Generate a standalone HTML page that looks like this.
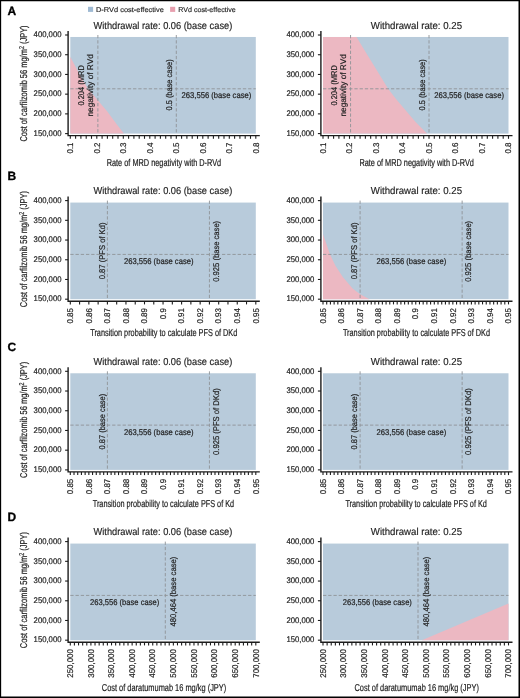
<!DOCTYPE html>
<html><head><meta charset="utf-8"><style>
html,body{margin:0;padding:0;background:#fff;}
body{width:520px;height:698px;overflow:hidden;}
svg{display:block;font-family:"Liberation Sans",sans-serif;will-change:transform;text-rendering:geometricPrecision;}
svg text{fill:#222;stroke:#222;stroke-width:0.2px;}
svg text.ns{stroke:none;}
svg text.tt{stroke-width:0.15px;}
svg text.lt{fill:#000;stroke:#000;stroke-width:0.3px;}
.d{stroke:#8f9397;stroke-width:0.9;stroke-dasharray:3.3 1.93;fill:none;}
.ax{stroke:#1c1c1c;stroke-width:1.4;fill:none;}
.tk{stroke:#1c1c1c;stroke-width:1.1;}
</style></head><body>
<svg width="520" height="698" viewBox="0 0 520 698">
<rect x="0" y="0" width="520" height="698" fill="#fff"/>
<path d="M0,0H520V698H0Z M1.15,1.3V696.5H518.5V1.3Z" fill="#000" fill-rule="evenodd"/>
<rect x="88" y="6.8" width="5.1" height="5.1" fill="#9fbad3"/>
<text x="96.00" y="11.90" font-size="7" textLength="67.8" lengthAdjust="spacingAndGlyphs" class="tt">D-RVd cost-effective</text>
<rect x="170.1" y="6.8" width="5.1" height="5.1" fill="#e79fae"/>
<text x="178.20" y="11.90" font-size="7" textLength="57.6" lengthAdjust="spacingAndGlyphs" class="tt">RVd cost-effective</text>
<text x="7.50" y="15.00" font-size="12" font-weight="bold" fill="#000" class="lt">A</text>
<text x="7.50" y="180.20" font-size="12" font-weight="bold" fill="#000" class="lt">B</text>
<text x="7.50" y="350.60" font-size="12" font-weight="bold" fill="#000" class="lt">C</text>
<text x="7.50" y="521.20" font-size="12" font-weight="bold" fill="#000" class="lt">D</text>
<rect x="70.30" y="36.97" width="185.50" height="96.63" fill="#b8cbdb"/>
<polygon fill="#ecb8c2" points="70.30,56.80 79.60,74.60 87.60,88.20 98.00,100.50 107.30,111.60 116.50,123.90 123.90,133.60 70.30,133.60"/>
<path d="M68.10,31.00V135.60H259.80" class="ax"/>
<line x1="65.10" y1="133.60" x2="68.10" y2="133.60" class="tk"/>
<text x="61.50" y="135.80" font-size="8.2" text-anchor="end" textLength="27.9" lengthAdjust="spacingAndGlyphs">150,000</text>
<line x1="65.10" y1="113.88" x2="68.10" y2="113.88" class="tk"/>
<text x="61.50" y="116.08" font-size="8.2" text-anchor="end" textLength="27.9" lengthAdjust="spacingAndGlyphs">200,000</text>
<line x1="65.10" y1="94.16" x2="68.10" y2="94.16" class="tk"/>
<text x="61.50" y="96.36" font-size="8.2" text-anchor="end" textLength="27.9" lengthAdjust="spacingAndGlyphs">250,000</text>
<line x1="65.10" y1="74.44" x2="68.10" y2="74.44" class="tk"/>
<text x="61.50" y="76.64" font-size="8.2" text-anchor="end" textLength="27.9" lengthAdjust="spacingAndGlyphs">300,000</text>
<line x1="65.10" y1="54.72" x2="68.10" y2="54.72" class="tk"/>
<text x="61.50" y="56.92" font-size="8.2" text-anchor="end" textLength="27.9" lengthAdjust="spacingAndGlyphs">350,000</text>
<line x1="65.10" y1="35.00" x2="68.10" y2="35.00" class="tk"/>
<text x="61.50" y="37.20" font-size="8.2" text-anchor="end" textLength="27.9" lengthAdjust="spacingAndGlyphs">400,000</text>
<line x1="70.30" y1="135.60" x2="70.30" y2="138.80" class="tk"/>
<line x1="75.60" y1="135.60" x2="75.60" y2="138.80" class="tk"/>
<line x1="80.90" y1="135.60" x2="80.90" y2="138.80" class="tk"/>
<line x1="86.20" y1="135.60" x2="86.20" y2="138.80" class="tk"/>
<line x1="91.50" y1="135.60" x2="91.50" y2="138.80" class="tk"/>
<line x1="96.80" y1="135.60" x2="96.80" y2="138.80" class="tk"/>
<line x1="102.10" y1="135.60" x2="102.10" y2="138.80" class="tk"/>
<line x1="107.40" y1="135.60" x2="107.40" y2="138.80" class="tk"/>
<line x1="112.70" y1="135.60" x2="112.70" y2="138.80" class="tk"/>
<line x1="118.00" y1="135.60" x2="118.00" y2="138.80" class="tk"/>
<line x1="123.30" y1="135.60" x2="123.30" y2="138.80" class="tk"/>
<line x1="128.60" y1="135.60" x2="128.60" y2="138.80" class="tk"/>
<line x1="133.90" y1="135.60" x2="133.90" y2="138.80" class="tk"/>
<line x1="139.20" y1="135.60" x2="139.20" y2="138.80" class="tk"/>
<line x1="144.50" y1="135.60" x2="144.50" y2="138.80" class="tk"/>
<line x1="149.80" y1="135.60" x2="149.80" y2="138.80" class="tk"/>
<line x1="155.10" y1="135.60" x2="155.10" y2="138.80" class="tk"/>
<line x1="160.40" y1="135.60" x2="160.40" y2="138.80" class="tk"/>
<line x1="165.70" y1="135.60" x2="165.70" y2="138.80" class="tk"/>
<line x1="171.00" y1="135.60" x2="171.00" y2="138.80" class="tk"/>
<line x1="176.30" y1="135.60" x2="176.30" y2="138.80" class="tk"/>
<line x1="181.60" y1="135.60" x2="181.60" y2="138.80" class="tk"/>
<line x1="186.90" y1="135.60" x2="186.90" y2="138.80" class="tk"/>
<line x1="192.20" y1="135.60" x2="192.20" y2="138.80" class="tk"/>
<line x1="197.50" y1="135.60" x2="197.50" y2="138.80" class="tk"/>
<line x1="202.80" y1="135.60" x2="202.80" y2="138.80" class="tk"/>
<line x1="208.10" y1="135.60" x2="208.10" y2="138.80" class="tk"/>
<line x1="213.40" y1="135.60" x2="213.40" y2="138.80" class="tk"/>
<line x1="218.70" y1="135.60" x2="218.70" y2="138.80" class="tk"/>
<line x1="224.00" y1="135.60" x2="224.00" y2="138.80" class="tk"/>
<line x1="229.30" y1="135.60" x2="229.30" y2="138.80" class="tk"/>
<line x1="234.60" y1="135.60" x2="234.60" y2="138.80" class="tk"/>
<line x1="239.90" y1="135.60" x2="239.90" y2="138.80" class="tk"/>
<line x1="245.20" y1="135.60" x2="245.20" y2="138.80" class="tk"/>
<line x1="250.50" y1="135.60" x2="250.50" y2="138.80" class="tk"/>
<line x1="255.80" y1="135.60" x2="255.80" y2="138.80" class="tk"/>
<text transform="translate(73.00,142.50) rotate(-90) scale(0.955,1)" font-size="8.3" text-anchor="end">0.1</text>
<text transform="translate(99.50,142.50) rotate(-90) scale(0.955,1)" font-size="8.3" text-anchor="end">0.2</text>
<text transform="translate(126.00,142.50) rotate(-90) scale(0.955,1)" font-size="8.3" text-anchor="end">0.3</text>
<text transform="translate(152.50,142.50) rotate(-90) scale(0.955,1)" font-size="8.3" text-anchor="end">0.4</text>
<text transform="translate(179.00,142.50) rotate(-90) scale(0.955,1)" font-size="8.3" text-anchor="end">0.5</text>
<text transform="translate(205.50,142.50) rotate(-90) scale(0.955,1)" font-size="8.3" text-anchor="end">0.6</text>
<text transform="translate(232.00,142.50) rotate(-90) scale(0.955,1)" font-size="8.3" text-anchor="end">0.7</text>
<text transform="translate(258.50,142.50) rotate(-90) scale(0.955,1)" font-size="8.3" text-anchor="end">0.8</text>
<text x="163.95" y="165.80" font-size="10.0" text-anchor="middle" textLength="114.5" lengthAdjust="spacingAndGlyphs">Rate of MRD negativity with D-RVd</text>
<text transform="translate(27.40,83.50) rotate(-90)" font-size="9.9" text-anchor="middle" textLength="116.2" lengthAdjust="spacingAndGlyphs">Cost of carfilzomib 56 mg/m<tspan font-size="7" dy="-3.6">2</tspan><tspan dy="3.6"> (JPY)</tspan></text>
<text x="162.90" y="28.70" font-size="10.1" text-anchor="middle" textLength="138.8" lengthAdjust="spacingAndGlyphs" class="tt">Withdrawal rate: 0.06 (base case)</text>
<line x1="70.30" y1="88.81" x2="255.80" y2="88.81" class="d"/>
<line x1="97.86" y1="35.00" x2="97.86" y2="133.60" class="d"/>
<line x1="176.30" y1="35.00" x2="176.30" y2="133.60" class="d"/>
<text transform="translate(84.00,85.40) rotate(-90)" font-size="8.3" text-anchor="middle" textLength="40.4" lengthAdjust="spacingAndGlyphs">0.204 (MRD</text>
<text transform="translate(92.80,85.40) rotate(-90)" font-size="8.3" text-anchor="middle" textLength="62.3" lengthAdjust="spacingAndGlyphs">negativity of RVd</text>
<text transform="translate(172.10,84.90) rotate(-90)" font-size="8.3" text-anchor="middle" textLength="51.2" lengthAdjust="spacingAndGlyphs">0.5 (base case)</text>
<text x="181.50" y="97.81" font-size="8.3" textLength="69.8" lengthAdjust="spacingAndGlyphs">263,556 (base case)</text>
<rect x="323.00" y="36.97" width="185.50" height="96.63" fill="#b8cbdb"/>
<polygon fill="#ecb8c2" points="323.00,36.97 356.50,36.97 366.20,53.10 380.50,76.20 388.10,88.80 396.20,99.20 415.80,122.30 427.00,133.60 323.00,133.60"/>
<path d="M320.90,31.00V135.60H512.50" class="ax"/>
<line x1="317.90" y1="133.60" x2="320.90" y2="133.60" class="tk"/>
<text x="314.30" y="135.80" font-size="8.2" text-anchor="end" textLength="27.9" lengthAdjust="spacingAndGlyphs">150,000</text>
<line x1="317.90" y1="113.88" x2="320.90" y2="113.88" class="tk"/>
<text x="314.30" y="116.08" font-size="8.2" text-anchor="end" textLength="27.9" lengthAdjust="spacingAndGlyphs">200,000</text>
<line x1="317.90" y1="94.16" x2="320.90" y2="94.16" class="tk"/>
<text x="314.30" y="96.36" font-size="8.2" text-anchor="end" textLength="27.9" lengthAdjust="spacingAndGlyphs">250,000</text>
<line x1="317.90" y1="74.44" x2="320.90" y2="74.44" class="tk"/>
<text x="314.30" y="76.64" font-size="8.2" text-anchor="end" textLength="27.9" lengthAdjust="spacingAndGlyphs">300,000</text>
<line x1="317.90" y1="54.72" x2="320.90" y2="54.72" class="tk"/>
<text x="314.30" y="56.92" font-size="8.2" text-anchor="end" textLength="27.9" lengthAdjust="spacingAndGlyphs">350,000</text>
<line x1="317.90" y1="35.00" x2="320.90" y2="35.00" class="tk"/>
<text x="314.30" y="37.20" font-size="8.2" text-anchor="end" textLength="27.9" lengthAdjust="spacingAndGlyphs">400,000</text>
<line x1="323.00" y1="135.60" x2="323.00" y2="138.80" class="tk"/>
<line x1="328.30" y1="135.60" x2="328.30" y2="138.80" class="tk"/>
<line x1="333.60" y1="135.60" x2="333.60" y2="138.80" class="tk"/>
<line x1="338.90" y1="135.60" x2="338.90" y2="138.80" class="tk"/>
<line x1="344.20" y1="135.60" x2="344.20" y2="138.80" class="tk"/>
<line x1="349.50" y1="135.60" x2="349.50" y2="138.80" class="tk"/>
<line x1="354.80" y1="135.60" x2="354.80" y2="138.80" class="tk"/>
<line x1="360.10" y1="135.60" x2="360.10" y2="138.80" class="tk"/>
<line x1="365.40" y1="135.60" x2="365.40" y2="138.80" class="tk"/>
<line x1="370.70" y1="135.60" x2="370.70" y2="138.80" class="tk"/>
<line x1="376.00" y1="135.60" x2="376.00" y2="138.80" class="tk"/>
<line x1="381.30" y1="135.60" x2="381.30" y2="138.80" class="tk"/>
<line x1="386.60" y1="135.60" x2="386.60" y2="138.80" class="tk"/>
<line x1="391.90" y1="135.60" x2="391.90" y2="138.80" class="tk"/>
<line x1="397.20" y1="135.60" x2="397.20" y2="138.80" class="tk"/>
<line x1="402.50" y1="135.60" x2="402.50" y2="138.80" class="tk"/>
<line x1="407.80" y1="135.60" x2="407.80" y2="138.80" class="tk"/>
<line x1="413.10" y1="135.60" x2="413.10" y2="138.80" class="tk"/>
<line x1="418.40" y1="135.60" x2="418.40" y2="138.80" class="tk"/>
<line x1="423.70" y1="135.60" x2="423.70" y2="138.80" class="tk"/>
<line x1="429.00" y1="135.60" x2="429.00" y2="138.80" class="tk"/>
<line x1="434.30" y1="135.60" x2="434.30" y2="138.80" class="tk"/>
<line x1="439.60" y1="135.60" x2="439.60" y2="138.80" class="tk"/>
<line x1="444.90" y1="135.60" x2="444.90" y2="138.80" class="tk"/>
<line x1="450.20" y1="135.60" x2="450.20" y2="138.80" class="tk"/>
<line x1="455.50" y1="135.60" x2="455.50" y2="138.80" class="tk"/>
<line x1="460.80" y1="135.60" x2="460.80" y2="138.80" class="tk"/>
<line x1="466.10" y1="135.60" x2="466.10" y2="138.80" class="tk"/>
<line x1="471.40" y1="135.60" x2="471.40" y2="138.80" class="tk"/>
<line x1="476.70" y1="135.60" x2="476.70" y2="138.80" class="tk"/>
<line x1="482.00" y1="135.60" x2="482.00" y2="138.80" class="tk"/>
<line x1="487.30" y1="135.60" x2="487.30" y2="138.80" class="tk"/>
<line x1="492.60" y1="135.60" x2="492.60" y2="138.80" class="tk"/>
<line x1="497.90" y1="135.60" x2="497.90" y2="138.80" class="tk"/>
<line x1="503.20" y1="135.60" x2="503.20" y2="138.80" class="tk"/>
<line x1="508.50" y1="135.60" x2="508.50" y2="138.80" class="tk"/>
<text transform="translate(325.70,142.50) rotate(-90) scale(0.955,1)" font-size="8.3" text-anchor="end">0.1</text>
<text transform="translate(352.20,142.50) rotate(-90) scale(0.955,1)" font-size="8.3" text-anchor="end">0.2</text>
<text transform="translate(378.70,142.50) rotate(-90) scale(0.955,1)" font-size="8.3" text-anchor="end">0.3</text>
<text transform="translate(405.20,142.50) rotate(-90) scale(0.955,1)" font-size="8.3" text-anchor="end">0.4</text>
<text transform="translate(431.70,142.50) rotate(-90) scale(0.955,1)" font-size="8.3" text-anchor="end">0.5</text>
<text transform="translate(458.20,142.50) rotate(-90) scale(0.955,1)" font-size="8.3" text-anchor="end">0.6</text>
<text transform="translate(484.70,142.50) rotate(-90) scale(0.955,1)" font-size="8.3" text-anchor="end">0.7</text>
<text transform="translate(511.20,142.50) rotate(-90) scale(0.955,1)" font-size="8.3" text-anchor="end">0.8</text>
<text x="416.65" y="165.80" font-size="10.0" text-anchor="middle" textLength="114.5" lengthAdjust="spacingAndGlyphs">Rate of MRD negativity with D-RVd</text>
<text x="416.40" y="28.70" font-size="10.1" text-anchor="middle" textLength="91.2" lengthAdjust="spacingAndGlyphs" class="tt">Withdrawal rate: 0.25</text>
<line x1="323.00" y1="88.81" x2="508.50" y2="88.81" class="d"/>
<line x1="350.56" y1="35.00" x2="350.56" y2="133.60" class="d"/>
<line x1="429.00" y1="35.00" x2="429.00" y2="133.60" class="d"/>
<text transform="translate(336.70,85.40) rotate(-90)" font-size="8.3" text-anchor="middle" textLength="40.4" lengthAdjust="spacingAndGlyphs">0.204 (MRD</text>
<text transform="translate(345.50,85.40) rotate(-90)" font-size="8.3" text-anchor="middle" textLength="62.3" lengthAdjust="spacingAndGlyphs">negativity of RVd</text>
<text transform="translate(424.80,84.90) rotate(-90)" font-size="8.3" text-anchor="middle" textLength="51.2" lengthAdjust="spacingAndGlyphs">0.5 (base case)</text>
<text x="434.20" y="97.81" font-size="8.3" textLength="69.8" lengthAdjust="spacingAndGlyphs">263,556 (base case)</text>
<rect x="70.30" y="202.57" width="185.50" height="96.63" fill="#b8cbdb"/>
<path d="M68.10,196.60V301.20H259.80" class="ax"/>
<line x1="65.10" y1="299.20" x2="68.10" y2="299.20" class="tk"/>
<text x="61.50" y="301.40" font-size="8.2" text-anchor="end" textLength="27.9" lengthAdjust="spacingAndGlyphs">150,000</text>
<line x1="65.10" y1="279.48" x2="68.10" y2="279.48" class="tk"/>
<text x="61.50" y="281.68" font-size="8.2" text-anchor="end" textLength="27.9" lengthAdjust="spacingAndGlyphs">200,000</text>
<line x1="65.10" y1="259.76" x2="68.10" y2="259.76" class="tk"/>
<text x="61.50" y="261.96" font-size="8.2" text-anchor="end" textLength="27.9" lengthAdjust="spacingAndGlyphs">250,000</text>
<line x1="65.10" y1="240.04" x2="68.10" y2="240.04" class="tk"/>
<text x="61.50" y="242.24" font-size="8.2" text-anchor="end" textLength="27.9" lengthAdjust="spacingAndGlyphs">300,000</text>
<line x1="65.10" y1="220.32" x2="68.10" y2="220.32" class="tk"/>
<text x="61.50" y="222.52" font-size="8.2" text-anchor="end" textLength="27.9" lengthAdjust="spacingAndGlyphs">350,000</text>
<line x1="65.10" y1="200.60" x2="68.10" y2="200.60" class="tk"/>
<text x="61.50" y="202.80" font-size="8.2" text-anchor="end" textLength="27.9" lengthAdjust="spacingAndGlyphs">400,000</text>
<line x1="70.30" y1="301.20" x2="70.30" y2="304.40" class="tk"/>
<line x1="79.58" y1="301.20" x2="79.58" y2="304.40" class="tk"/>
<line x1="88.85" y1="301.20" x2="88.85" y2="304.40" class="tk"/>
<line x1="98.13" y1="301.20" x2="98.13" y2="304.40" class="tk"/>
<line x1="107.40" y1="301.20" x2="107.40" y2="304.40" class="tk"/>
<line x1="116.68" y1="301.20" x2="116.68" y2="304.40" class="tk"/>
<line x1="125.95" y1="301.20" x2="125.95" y2="304.40" class="tk"/>
<line x1="135.23" y1="301.20" x2="135.23" y2="304.40" class="tk"/>
<line x1="144.50" y1="301.20" x2="144.50" y2="304.40" class="tk"/>
<line x1="153.78" y1="301.20" x2="153.78" y2="304.40" class="tk"/>
<line x1="163.05" y1="301.20" x2="163.05" y2="304.40" class="tk"/>
<line x1="172.33" y1="301.20" x2="172.33" y2="304.40" class="tk"/>
<line x1="181.60" y1="301.20" x2="181.60" y2="304.40" class="tk"/>
<line x1="190.88" y1="301.20" x2="190.88" y2="304.40" class="tk"/>
<line x1="200.15" y1="301.20" x2="200.15" y2="304.40" class="tk"/>
<line x1="209.42" y1="301.20" x2="209.42" y2="304.40" class="tk"/>
<line x1="218.70" y1="301.20" x2="218.70" y2="304.40" class="tk"/>
<line x1="227.97" y1="301.20" x2="227.97" y2="304.40" class="tk"/>
<line x1="237.25" y1="301.20" x2="237.25" y2="304.40" class="tk"/>
<line x1="246.52" y1="301.20" x2="246.52" y2="304.40" class="tk"/>
<line x1="255.80" y1="301.20" x2="255.80" y2="304.40" class="tk"/>
<text transform="translate(73.00,308.10) rotate(-90) scale(0.955,1)" font-size="8.3" text-anchor="end">0.85</text>
<text transform="translate(91.55,308.10) rotate(-90) scale(0.955,1)" font-size="8.3" text-anchor="end">0.86</text>
<text transform="translate(110.10,308.10) rotate(-90) scale(0.955,1)" font-size="8.3" text-anchor="end">0.87</text>
<text transform="translate(128.65,308.10) rotate(-90) scale(0.955,1)" font-size="8.3" text-anchor="end">0.88</text>
<text transform="translate(147.20,308.10) rotate(-90) scale(0.955,1)" font-size="8.3" text-anchor="end">0.89</text>
<text transform="translate(165.75,308.10) rotate(-90) scale(0.955,1)" font-size="8.3" text-anchor="end">0.9</text>
<text transform="translate(184.30,308.10) rotate(-90) scale(0.955,1)" font-size="8.3" text-anchor="end">0.91</text>
<text transform="translate(202.85,308.10) rotate(-90) scale(0.955,1)" font-size="8.3" text-anchor="end">0.92</text>
<text transform="translate(221.40,308.10) rotate(-90) scale(0.955,1)" font-size="8.3" text-anchor="end">0.93</text>
<text transform="translate(239.95,308.10) rotate(-90) scale(0.955,1)" font-size="8.3" text-anchor="end">0.94</text>
<text transform="translate(258.50,308.10) rotate(-90) scale(0.955,1)" font-size="8.3" text-anchor="end">0.95</text>
<text x="163.75" y="336.20" font-size="10.0" text-anchor="middle" textLength="147.1" lengthAdjust="spacingAndGlyphs">Transition probability to calculate PFS of DKd</text>
<text transform="translate(27.40,249.10) rotate(-90)" font-size="9.9" text-anchor="middle" textLength="116.2" lengthAdjust="spacingAndGlyphs">Cost of carfilzomib 56 mg/m<tspan font-size="7" dy="-3.6">2</tspan><tspan dy="3.6"> (JPY)</tspan></text>
<text x="162.90" y="194.30" font-size="10.1" text-anchor="middle" textLength="138.8" lengthAdjust="spacingAndGlyphs" class="tt">Withdrawal rate: 0.06 (base case)</text>
<line x1="70.30" y1="254.41" x2="255.80" y2="254.41" class="d"/>
<line x1="107.40" y1="200.60" x2="107.40" y2="299.20" class="d"/>
<line x1="209.43" y1="200.60" x2="209.43" y2="299.20" class="d"/>
<text transform="translate(104.50,250.90) rotate(-90)" font-size="8.3" text-anchor="middle" textLength="56.7" lengthAdjust="spacingAndGlyphs">0.87 (PFS of Kd)</text>
<text transform="translate(218.60,251.30) rotate(-90)" font-size="8.3" text-anchor="middle" textLength="60.9" lengthAdjust="spacingAndGlyphs">0.925 (base case)</text>
<text x="123.90" y="263.81" font-size="8.3" textLength="69.6" lengthAdjust="spacingAndGlyphs">263,556 (base case)</text>
<rect x="323.00" y="202.57" width="185.50" height="96.63" fill="#b8cbdb"/>
<polygon fill="#ecb8c2" points="323.00,234.20 325.80,242.30 330.10,254.40 335.30,265.40 342.80,276.90 352.60,288.50 360.10,294.20 369.50,299.20 323.00,299.20"/>
<path d="M320.90,196.60V301.20H512.50" class="ax"/>
<line x1="317.90" y1="299.20" x2="320.90" y2="299.20" class="tk"/>
<text x="314.30" y="301.40" font-size="8.2" text-anchor="end" textLength="27.9" lengthAdjust="spacingAndGlyphs">150,000</text>
<line x1="317.90" y1="279.48" x2="320.90" y2="279.48" class="tk"/>
<text x="314.30" y="281.68" font-size="8.2" text-anchor="end" textLength="27.9" lengthAdjust="spacingAndGlyphs">200,000</text>
<line x1="317.90" y1="259.76" x2="320.90" y2="259.76" class="tk"/>
<text x="314.30" y="261.96" font-size="8.2" text-anchor="end" textLength="27.9" lengthAdjust="spacingAndGlyphs">250,000</text>
<line x1="317.90" y1="240.04" x2="320.90" y2="240.04" class="tk"/>
<text x="314.30" y="242.24" font-size="8.2" text-anchor="end" textLength="27.9" lengthAdjust="spacingAndGlyphs">300,000</text>
<line x1="317.90" y1="220.32" x2="320.90" y2="220.32" class="tk"/>
<text x="314.30" y="222.52" font-size="8.2" text-anchor="end" textLength="27.9" lengthAdjust="spacingAndGlyphs">350,000</text>
<line x1="317.90" y1="200.60" x2="320.90" y2="200.60" class="tk"/>
<text x="314.30" y="202.80" font-size="8.2" text-anchor="end" textLength="27.9" lengthAdjust="spacingAndGlyphs">400,000</text>
<line x1="323.00" y1="301.20" x2="323.00" y2="304.40" class="tk"/>
<line x1="326.71" y1="301.20" x2="326.71" y2="304.40" class="tk"/>
<line x1="330.42" y1="301.20" x2="330.42" y2="304.40" class="tk"/>
<line x1="334.13" y1="301.20" x2="334.13" y2="304.40" class="tk"/>
<line x1="337.84" y1="301.20" x2="337.84" y2="304.40" class="tk"/>
<line x1="341.55" y1="301.20" x2="341.55" y2="304.40" class="tk"/>
<line x1="345.26" y1="301.20" x2="345.26" y2="304.40" class="tk"/>
<line x1="348.97" y1="301.20" x2="348.97" y2="304.40" class="tk"/>
<line x1="352.68" y1="301.20" x2="352.68" y2="304.40" class="tk"/>
<line x1="356.39" y1="301.20" x2="356.39" y2="304.40" class="tk"/>
<line x1="360.10" y1="301.20" x2="360.10" y2="304.40" class="tk"/>
<line x1="363.81" y1="301.20" x2="363.81" y2="304.40" class="tk"/>
<line x1="367.52" y1="301.20" x2="367.52" y2="304.40" class="tk"/>
<line x1="371.23" y1="301.20" x2="371.23" y2="304.40" class="tk"/>
<line x1="374.94" y1="301.20" x2="374.94" y2="304.40" class="tk"/>
<line x1="378.65" y1="301.20" x2="378.65" y2="304.40" class="tk"/>
<line x1="382.36" y1="301.20" x2="382.36" y2="304.40" class="tk"/>
<line x1="386.07" y1="301.20" x2="386.07" y2="304.40" class="tk"/>
<line x1="389.78" y1="301.20" x2="389.78" y2="304.40" class="tk"/>
<line x1="393.49" y1="301.20" x2="393.49" y2="304.40" class="tk"/>
<line x1="397.20" y1="301.20" x2="397.20" y2="304.40" class="tk"/>
<line x1="400.91" y1="301.20" x2="400.91" y2="304.40" class="tk"/>
<line x1="404.62" y1="301.20" x2="404.62" y2="304.40" class="tk"/>
<line x1="408.33" y1="301.20" x2="408.33" y2="304.40" class="tk"/>
<line x1="412.04" y1="301.20" x2="412.04" y2="304.40" class="tk"/>
<line x1="415.75" y1="301.20" x2="415.75" y2="304.40" class="tk"/>
<line x1="419.46" y1="301.20" x2="419.46" y2="304.40" class="tk"/>
<line x1="423.17" y1="301.20" x2="423.17" y2="304.40" class="tk"/>
<line x1="426.88" y1="301.20" x2="426.88" y2="304.40" class="tk"/>
<line x1="430.59" y1="301.20" x2="430.59" y2="304.40" class="tk"/>
<line x1="434.30" y1="301.20" x2="434.30" y2="304.40" class="tk"/>
<line x1="438.01" y1="301.20" x2="438.01" y2="304.40" class="tk"/>
<line x1="441.72" y1="301.20" x2="441.72" y2="304.40" class="tk"/>
<line x1="445.43" y1="301.20" x2="445.43" y2="304.40" class="tk"/>
<line x1="449.14" y1="301.20" x2="449.14" y2="304.40" class="tk"/>
<line x1="452.85" y1="301.20" x2="452.85" y2="304.40" class="tk"/>
<line x1="456.56" y1="301.20" x2="456.56" y2="304.40" class="tk"/>
<line x1="460.27" y1="301.20" x2="460.27" y2="304.40" class="tk"/>
<line x1="463.98" y1="301.20" x2="463.98" y2="304.40" class="tk"/>
<line x1="467.69" y1="301.20" x2="467.69" y2="304.40" class="tk"/>
<line x1="471.40" y1="301.20" x2="471.40" y2="304.40" class="tk"/>
<line x1="475.11" y1="301.20" x2="475.11" y2="304.40" class="tk"/>
<line x1="478.82" y1="301.20" x2="478.82" y2="304.40" class="tk"/>
<line x1="482.53" y1="301.20" x2="482.53" y2="304.40" class="tk"/>
<line x1="486.24" y1="301.20" x2="486.24" y2="304.40" class="tk"/>
<line x1="489.95" y1="301.20" x2="489.95" y2="304.40" class="tk"/>
<line x1="493.66" y1="301.20" x2="493.66" y2="304.40" class="tk"/>
<line x1="497.37" y1="301.20" x2="497.37" y2="304.40" class="tk"/>
<line x1="501.08" y1="301.20" x2="501.08" y2="304.40" class="tk"/>
<line x1="504.79" y1="301.20" x2="504.79" y2="304.40" class="tk"/>
<line x1="508.50" y1="301.20" x2="508.50" y2="304.40" class="tk"/>
<text transform="translate(325.70,308.10) rotate(-90) scale(0.955,1)" font-size="8.3" text-anchor="end">0.85</text>
<text transform="translate(344.25,308.10) rotate(-90) scale(0.955,1)" font-size="8.3" text-anchor="end">0.86</text>
<text transform="translate(362.80,308.10) rotate(-90) scale(0.955,1)" font-size="8.3" text-anchor="end">0.87</text>
<text transform="translate(381.35,308.10) rotate(-90) scale(0.955,1)" font-size="8.3" text-anchor="end">0.88</text>
<text transform="translate(399.90,308.10) rotate(-90) scale(0.955,1)" font-size="8.3" text-anchor="end">0.89</text>
<text transform="translate(418.45,308.10) rotate(-90) scale(0.955,1)" font-size="8.3" text-anchor="end">0.9</text>
<text transform="translate(437.00,308.10) rotate(-90) scale(0.955,1)" font-size="8.3" text-anchor="end">0.91</text>
<text transform="translate(455.55,308.10) rotate(-90) scale(0.955,1)" font-size="8.3" text-anchor="end">0.92</text>
<text transform="translate(474.10,308.10) rotate(-90) scale(0.955,1)" font-size="8.3" text-anchor="end">0.93</text>
<text transform="translate(492.65,308.10) rotate(-90) scale(0.955,1)" font-size="8.3" text-anchor="end">0.94</text>
<text transform="translate(511.20,308.10) rotate(-90) scale(0.955,1)" font-size="8.3" text-anchor="end">0.95</text>
<text x="416.45" y="336.20" font-size="10.0" text-anchor="middle" textLength="147.1" lengthAdjust="spacingAndGlyphs">Transition probability to calculate PFS of DKd</text>
<text x="416.40" y="194.30" font-size="10.1" text-anchor="middle" textLength="91.2" lengthAdjust="spacingAndGlyphs" class="tt">Withdrawal rate: 0.25</text>
<line x1="323.00" y1="254.41" x2="508.50" y2="254.41" class="d"/>
<line x1="360.10" y1="200.60" x2="360.10" y2="299.20" class="d"/>
<line x1="462.13" y1="200.60" x2="462.13" y2="299.20" class="d"/>
<text transform="translate(357.20,250.90) rotate(-90)" font-size="8.3" text-anchor="middle" textLength="56.7" lengthAdjust="spacingAndGlyphs">0.87 (PFS of Kd)</text>
<text transform="translate(471.30,251.30) rotate(-90)" font-size="8.3" text-anchor="middle" textLength="60.9" lengthAdjust="spacingAndGlyphs">0.925 (base case)</text>
<text x="376.60" y="263.81" font-size="8.3" textLength="69.6" lengthAdjust="spacingAndGlyphs">263,556 (base case)</text>
<rect x="70.30" y="373.27" width="185.50" height="96.63" fill="#b8cbdb"/>
<path d="M68.10,367.30V471.90H259.80" class="ax"/>
<line x1="65.10" y1="469.90" x2="68.10" y2="469.90" class="tk"/>
<text x="61.50" y="472.10" font-size="8.2" text-anchor="end" textLength="27.9" lengthAdjust="spacingAndGlyphs">150,000</text>
<line x1="65.10" y1="450.18" x2="68.10" y2="450.18" class="tk"/>
<text x="61.50" y="452.38" font-size="8.2" text-anchor="end" textLength="27.9" lengthAdjust="spacingAndGlyphs">200,000</text>
<line x1="65.10" y1="430.46" x2="68.10" y2="430.46" class="tk"/>
<text x="61.50" y="432.66" font-size="8.2" text-anchor="end" textLength="27.9" lengthAdjust="spacingAndGlyphs">250,000</text>
<line x1="65.10" y1="410.74" x2="68.10" y2="410.74" class="tk"/>
<text x="61.50" y="412.94" font-size="8.2" text-anchor="end" textLength="27.9" lengthAdjust="spacingAndGlyphs">300,000</text>
<line x1="65.10" y1="391.02" x2="68.10" y2="391.02" class="tk"/>
<text x="61.50" y="393.22" font-size="8.2" text-anchor="end" textLength="27.9" lengthAdjust="spacingAndGlyphs">350,000</text>
<line x1="65.10" y1="371.30" x2="68.10" y2="371.30" class="tk"/>
<text x="61.50" y="373.50" font-size="8.2" text-anchor="end" textLength="27.9" lengthAdjust="spacingAndGlyphs">400,000</text>
<line x1="70.30" y1="471.90" x2="70.30" y2="475.10" class="tk"/>
<line x1="74.01" y1="471.90" x2="74.01" y2="475.10" class="tk"/>
<line x1="77.72" y1="471.90" x2="77.72" y2="475.10" class="tk"/>
<line x1="81.43" y1="471.90" x2="81.43" y2="475.10" class="tk"/>
<line x1="85.14" y1="471.90" x2="85.14" y2="475.10" class="tk"/>
<line x1="88.85" y1="471.90" x2="88.85" y2="475.10" class="tk"/>
<line x1="92.56" y1="471.90" x2="92.56" y2="475.10" class="tk"/>
<line x1="96.27" y1="471.90" x2="96.27" y2="475.10" class="tk"/>
<line x1="99.98" y1="471.90" x2="99.98" y2="475.10" class="tk"/>
<line x1="103.69" y1="471.90" x2="103.69" y2="475.10" class="tk"/>
<line x1="107.40" y1="471.90" x2="107.40" y2="475.10" class="tk"/>
<line x1="111.11" y1="471.90" x2="111.11" y2="475.10" class="tk"/>
<line x1="114.82" y1="471.90" x2="114.82" y2="475.10" class="tk"/>
<line x1="118.53" y1="471.90" x2="118.53" y2="475.10" class="tk"/>
<line x1="122.24" y1="471.90" x2="122.24" y2="475.10" class="tk"/>
<line x1="125.95" y1="471.90" x2="125.95" y2="475.10" class="tk"/>
<line x1="129.66" y1="471.90" x2="129.66" y2="475.10" class="tk"/>
<line x1="133.37" y1="471.90" x2="133.37" y2="475.10" class="tk"/>
<line x1="137.08" y1="471.90" x2="137.08" y2="475.10" class="tk"/>
<line x1="140.79" y1="471.90" x2="140.79" y2="475.10" class="tk"/>
<line x1="144.50" y1="471.90" x2="144.50" y2="475.10" class="tk"/>
<line x1="148.21" y1="471.90" x2="148.21" y2="475.10" class="tk"/>
<line x1="151.92" y1="471.90" x2="151.92" y2="475.10" class="tk"/>
<line x1="155.63" y1="471.90" x2="155.63" y2="475.10" class="tk"/>
<line x1="159.34" y1="471.90" x2="159.34" y2="475.10" class="tk"/>
<line x1="163.05" y1="471.90" x2="163.05" y2="475.10" class="tk"/>
<line x1="166.76" y1="471.90" x2="166.76" y2="475.10" class="tk"/>
<line x1="170.47" y1="471.90" x2="170.47" y2="475.10" class="tk"/>
<line x1="174.18" y1="471.90" x2="174.18" y2="475.10" class="tk"/>
<line x1="177.89" y1="471.90" x2="177.89" y2="475.10" class="tk"/>
<line x1="181.60" y1="471.90" x2="181.60" y2="475.10" class="tk"/>
<line x1="185.31" y1="471.90" x2="185.31" y2="475.10" class="tk"/>
<line x1="189.02" y1="471.90" x2="189.02" y2="475.10" class="tk"/>
<line x1="192.73" y1="471.90" x2="192.73" y2="475.10" class="tk"/>
<line x1="196.44" y1="471.90" x2="196.44" y2="475.10" class="tk"/>
<line x1="200.15" y1="471.90" x2="200.15" y2="475.10" class="tk"/>
<line x1="203.86" y1="471.90" x2="203.86" y2="475.10" class="tk"/>
<line x1="207.57" y1="471.90" x2="207.57" y2="475.10" class="tk"/>
<line x1="211.28" y1="471.90" x2="211.28" y2="475.10" class="tk"/>
<line x1="214.99" y1="471.90" x2="214.99" y2="475.10" class="tk"/>
<line x1="218.70" y1="471.90" x2="218.70" y2="475.10" class="tk"/>
<line x1="222.41" y1="471.90" x2="222.41" y2="475.10" class="tk"/>
<line x1="226.12" y1="471.90" x2="226.12" y2="475.10" class="tk"/>
<line x1="229.83" y1="471.90" x2="229.83" y2="475.10" class="tk"/>
<line x1="233.54" y1="471.90" x2="233.54" y2="475.10" class="tk"/>
<line x1="237.25" y1="471.90" x2="237.25" y2="475.10" class="tk"/>
<line x1="240.96" y1="471.90" x2="240.96" y2="475.10" class="tk"/>
<line x1="244.67" y1="471.90" x2="244.67" y2="475.10" class="tk"/>
<line x1="248.38" y1="471.90" x2="248.38" y2="475.10" class="tk"/>
<line x1="252.09" y1="471.90" x2="252.09" y2="475.10" class="tk"/>
<line x1="255.80" y1="471.90" x2="255.80" y2="475.10" class="tk"/>
<text transform="translate(73.00,478.80) rotate(-90) scale(0.955,1)" font-size="8.3" text-anchor="end">0.85</text>
<text transform="translate(91.55,478.80) rotate(-90) scale(0.955,1)" font-size="8.3" text-anchor="end">0.86</text>
<text transform="translate(110.10,478.80) rotate(-90) scale(0.955,1)" font-size="8.3" text-anchor="end">0.87</text>
<text transform="translate(128.65,478.80) rotate(-90) scale(0.955,1)" font-size="8.3" text-anchor="end">0.88</text>
<text transform="translate(147.20,478.80) rotate(-90) scale(0.955,1)" font-size="8.3" text-anchor="end">0.89</text>
<text transform="translate(165.75,478.80) rotate(-90) scale(0.955,1)" font-size="8.3" text-anchor="end">0.9</text>
<text transform="translate(184.30,478.80) rotate(-90) scale(0.955,1)" font-size="8.3" text-anchor="end">0.91</text>
<text transform="translate(202.85,478.80) rotate(-90) scale(0.955,1)" font-size="8.3" text-anchor="end">0.92</text>
<text transform="translate(221.40,478.80) rotate(-90) scale(0.955,1)" font-size="8.3" text-anchor="end">0.93</text>
<text transform="translate(239.95,478.80) rotate(-90) scale(0.955,1)" font-size="8.3" text-anchor="end">0.94</text>
<text transform="translate(258.50,478.80) rotate(-90) scale(0.955,1)" font-size="8.3" text-anchor="end">0.95</text>
<text x="163.45" y="506.50" font-size="10.0" text-anchor="middle" textLength="141.5" lengthAdjust="spacingAndGlyphs">Transition probability to calculate PFS of Kd</text>
<text transform="translate(27.40,419.80) rotate(-90)" font-size="9.9" text-anchor="middle" textLength="116.2" lengthAdjust="spacingAndGlyphs">Cost of carfilzomib 56 mg/m<tspan font-size="7" dy="-3.6">2</tspan><tspan dy="3.6"> (JPY)</tspan></text>
<text x="162.90" y="365.00" font-size="10.1" text-anchor="middle" textLength="138.8" lengthAdjust="spacingAndGlyphs" class="tt">Withdrawal rate: 0.06 (base case)</text>
<line x1="70.30" y1="425.11" x2="255.80" y2="425.11" class="d"/>
<line x1="107.40" y1="371.30" x2="107.40" y2="469.90" class="d"/>
<line x1="209.43" y1="371.30" x2="209.43" y2="469.90" class="d"/>
<text transform="translate(104.50,421.60) rotate(-90)" font-size="8.3" text-anchor="middle" textLength="55.7" lengthAdjust="spacingAndGlyphs">0.87 (base case)</text>
<text transform="translate(218.60,421.60) rotate(-90)" font-size="8.3" text-anchor="middle" textLength="66.6" lengthAdjust="spacingAndGlyphs">0.925 (PFS of DKd)</text>
<text x="123.90" y="434.51" font-size="8.3" textLength="69.6" lengthAdjust="spacingAndGlyphs">263,556 (base case)</text>
<rect x="323.00" y="373.27" width="185.50" height="96.63" fill="#b8cbdb"/>
<path d="M320.90,367.30V471.90H512.50" class="ax"/>
<line x1="317.90" y1="469.90" x2="320.90" y2="469.90" class="tk"/>
<text x="314.30" y="472.10" font-size="8.2" text-anchor="end" textLength="27.9" lengthAdjust="spacingAndGlyphs">150,000</text>
<line x1="317.90" y1="450.18" x2="320.90" y2="450.18" class="tk"/>
<text x="314.30" y="452.38" font-size="8.2" text-anchor="end" textLength="27.9" lengthAdjust="spacingAndGlyphs">200,000</text>
<line x1="317.90" y1="430.46" x2="320.90" y2="430.46" class="tk"/>
<text x="314.30" y="432.66" font-size="8.2" text-anchor="end" textLength="27.9" lengthAdjust="spacingAndGlyphs">250,000</text>
<line x1="317.90" y1="410.74" x2="320.90" y2="410.74" class="tk"/>
<text x="314.30" y="412.94" font-size="8.2" text-anchor="end" textLength="27.9" lengthAdjust="spacingAndGlyphs">300,000</text>
<line x1="317.90" y1="391.02" x2="320.90" y2="391.02" class="tk"/>
<text x="314.30" y="393.22" font-size="8.2" text-anchor="end" textLength="27.9" lengthAdjust="spacingAndGlyphs">350,000</text>
<line x1="317.90" y1="371.30" x2="320.90" y2="371.30" class="tk"/>
<text x="314.30" y="373.50" font-size="8.2" text-anchor="end" textLength="27.9" lengthAdjust="spacingAndGlyphs">400,000</text>
<line x1="323.00" y1="471.90" x2="323.00" y2="475.10" class="tk"/>
<line x1="326.71" y1="471.90" x2="326.71" y2="475.10" class="tk"/>
<line x1="330.42" y1="471.90" x2="330.42" y2="475.10" class="tk"/>
<line x1="334.13" y1="471.90" x2="334.13" y2="475.10" class="tk"/>
<line x1="337.84" y1="471.90" x2="337.84" y2="475.10" class="tk"/>
<line x1="341.55" y1="471.90" x2="341.55" y2="475.10" class="tk"/>
<line x1="345.26" y1="471.90" x2="345.26" y2="475.10" class="tk"/>
<line x1="348.97" y1="471.90" x2="348.97" y2="475.10" class="tk"/>
<line x1="352.68" y1="471.90" x2="352.68" y2="475.10" class="tk"/>
<line x1="356.39" y1="471.90" x2="356.39" y2="475.10" class="tk"/>
<line x1="360.10" y1="471.90" x2="360.10" y2="475.10" class="tk"/>
<line x1="363.81" y1="471.90" x2="363.81" y2="475.10" class="tk"/>
<line x1="367.52" y1="471.90" x2="367.52" y2="475.10" class="tk"/>
<line x1="371.23" y1="471.90" x2="371.23" y2="475.10" class="tk"/>
<line x1="374.94" y1="471.90" x2="374.94" y2="475.10" class="tk"/>
<line x1="378.65" y1="471.90" x2="378.65" y2="475.10" class="tk"/>
<line x1="382.36" y1="471.90" x2="382.36" y2="475.10" class="tk"/>
<line x1="386.07" y1="471.90" x2="386.07" y2="475.10" class="tk"/>
<line x1="389.78" y1="471.90" x2="389.78" y2="475.10" class="tk"/>
<line x1="393.49" y1="471.90" x2="393.49" y2="475.10" class="tk"/>
<line x1="397.20" y1="471.90" x2="397.20" y2="475.10" class="tk"/>
<line x1="400.91" y1="471.90" x2="400.91" y2="475.10" class="tk"/>
<line x1="404.62" y1="471.90" x2="404.62" y2="475.10" class="tk"/>
<line x1="408.33" y1="471.90" x2="408.33" y2="475.10" class="tk"/>
<line x1="412.04" y1="471.90" x2="412.04" y2="475.10" class="tk"/>
<line x1="415.75" y1="471.90" x2="415.75" y2="475.10" class="tk"/>
<line x1="419.46" y1="471.90" x2="419.46" y2="475.10" class="tk"/>
<line x1="423.17" y1="471.90" x2="423.17" y2="475.10" class="tk"/>
<line x1="426.88" y1="471.90" x2="426.88" y2="475.10" class="tk"/>
<line x1="430.59" y1="471.90" x2="430.59" y2="475.10" class="tk"/>
<line x1="434.30" y1="471.90" x2="434.30" y2="475.10" class="tk"/>
<line x1="438.01" y1="471.90" x2="438.01" y2="475.10" class="tk"/>
<line x1="441.72" y1="471.90" x2="441.72" y2="475.10" class="tk"/>
<line x1="445.43" y1="471.90" x2="445.43" y2="475.10" class="tk"/>
<line x1="449.14" y1="471.90" x2="449.14" y2="475.10" class="tk"/>
<line x1="452.85" y1="471.90" x2="452.85" y2="475.10" class="tk"/>
<line x1="456.56" y1="471.90" x2="456.56" y2="475.10" class="tk"/>
<line x1="460.27" y1="471.90" x2="460.27" y2="475.10" class="tk"/>
<line x1="463.98" y1="471.90" x2="463.98" y2="475.10" class="tk"/>
<line x1="467.69" y1="471.90" x2="467.69" y2="475.10" class="tk"/>
<line x1="471.40" y1="471.90" x2="471.40" y2="475.10" class="tk"/>
<line x1="475.11" y1="471.90" x2="475.11" y2="475.10" class="tk"/>
<line x1="478.82" y1="471.90" x2="478.82" y2="475.10" class="tk"/>
<line x1="482.53" y1="471.90" x2="482.53" y2="475.10" class="tk"/>
<line x1="486.24" y1="471.90" x2="486.24" y2="475.10" class="tk"/>
<line x1="489.95" y1="471.90" x2="489.95" y2="475.10" class="tk"/>
<line x1="493.66" y1="471.90" x2="493.66" y2="475.10" class="tk"/>
<line x1="497.37" y1="471.90" x2="497.37" y2="475.10" class="tk"/>
<line x1="501.08" y1="471.90" x2="501.08" y2="475.10" class="tk"/>
<line x1="504.79" y1="471.90" x2="504.79" y2="475.10" class="tk"/>
<line x1="508.50" y1="471.90" x2="508.50" y2="475.10" class="tk"/>
<text transform="translate(325.70,478.80) rotate(-90) scale(0.955,1)" font-size="8.3" text-anchor="end">0.85</text>
<text transform="translate(344.25,478.80) rotate(-90) scale(0.955,1)" font-size="8.3" text-anchor="end">0.86</text>
<text transform="translate(362.80,478.80) rotate(-90) scale(0.955,1)" font-size="8.3" text-anchor="end">0.87</text>
<text transform="translate(381.35,478.80) rotate(-90) scale(0.955,1)" font-size="8.3" text-anchor="end">0.88</text>
<text transform="translate(399.90,478.80) rotate(-90) scale(0.955,1)" font-size="8.3" text-anchor="end">0.89</text>
<text transform="translate(418.45,478.80) rotate(-90) scale(0.955,1)" font-size="8.3" text-anchor="end">0.9</text>
<text transform="translate(437.00,478.80) rotate(-90) scale(0.955,1)" font-size="8.3" text-anchor="end">0.91</text>
<text transform="translate(455.55,478.80) rotate(-90) scale(0.955,1)" font-size="8.3" text-anchor="end">0.92</text>
<text transform="translate(474.10,478.80) rotate(-90) scale(0.955,1)" font-size="8.3" text-anchor="end">0.93</text>
<text transform="translate(492.65,478.80) rotate(-90) scale(0.955,1)" font-size="8.3" text-anchor="end">0.94</text>
<text transform="translate(511.20,478.80) rotate(-90) scale(0.955,1)" font-size="8.3" text-anchor="end">0.95</text>
<text x="416.15" y="506.50" font-size="10.0" text-anchor="middle" textLength="141.5" lengthAdjust="spacingAndGlyphs">Transition probability to calculate PFS of Kd</text>
<text x="416.40" y="365.00" font-size="10.1" text-anchor="middle" textLength="91.2" lengthAdjust="spacingAndGlyphs" class="tt">Withdrawal rate: 0.25</text>
<line x1="323.00" y1="425.11" x2="508.50" y2="425.11" class="d"/>
<line x1="360.10" y1="371.30" x2="360.10" y2="469.90" class="d"/>
<line x1="462.13" y1="371.30" x2="462.13" y2="469.90" class="d"/>
<text transform="translate(357.20,421.60) rotate(-90)" font-size="8.3" text-anchor="middle" textLength="55.7" lengthAdjust="spacingAndGlyphs">0.87 (base case)</text>
<text transform="translate(471.30,421.60) rotate(-90)" font-size="8.3" text-anchor="middle" textLength="66.6" lengthAdjust="spacingAndGlyphs">0.925 (PFS of DKd)</text>
<text x="376.60" y="434.51" font-size="8.3" textLength="69.6" lengthAdjust="spacingAndGlyphs">263,556 (base case)</text>
<rect x="70.30" y="543.57" width="185.50" height="96.63" fill="#b8cbdb"/>
<path d="M68.10,537.60V642.20H259.80" class="ax"/>
<line x1="65.10" y1="640.20" x2="68.10" y2="640.20" class="tk"/>
<text x="61.50" y="642.40" font-size="8.2" text-anchor="end" textLength="27.9" lengthAdjust="spacingAndGlyphs">150,000</text>
<line x1="65.10" y1="620.48" x2="68.10" y2="620.48" class="tk"/>
<text x="61.50" y="622.68" font-size="8.2" text-anchor="end" textLength="27.9" lengthAdjust="spacingAndGlyphs">200,000</text>
<line x1="65.10" y1="600.76" x2="68.10" y2="600.76" class="tk"/>
<text x="61.50" y="602.96" font-size="8.2" text-anchor="end" textLength="27.9" lengthAdjust="spacingAndGlyphs">250,000</text>
<line x1="65.10" y1="581.04" x2="68.10" y2="581.04" class="tk"/>
<text x="61.50" y="583.24" font-size="8.2" text-anchor="end" textLength="27.9" lengthAdjust="spacingAndGlyphs">300,000</text>
<line x1="65.10" y1="561.32" x2="68.10" y2="561.32" class="tk"/>
<text x="61.50" y="563.52" font-size="8.2" text-anchor="end" textLength="27.9" lengthAdjust="spacingAndGlyphs">350,000</text>
<line x1="65.10" y1="541.60" x2="68.10" y2="541.60" class="tk"/>
<text x="61.50" y="543.80" font-size="8.2" text-anchor="end" textLength="27.9" lengthAdjust="spacingAndGlyphs">400,000</text>
<line x1="70.30" y1="642.20" x2="70.30" y2="645.40" class="tk"/>
<line x1="74.42" y1="642.20" x2="74.42" y2="645.40" class="tk"/>
<line x1="78.54" y1="642.20" x2="78.54" y2="645.40" class="tk"/>
<line x1="82.67" y1="642.20" x2="82.67" y2="645.40" class="tk"/>
<line x1="86.79" y1="642.20" x2="86.79" y2="645.40" class="tk"/>
<line x1="90.91" y1="642.20" x2="90.91" y2="645.40" class="tk"/>
<line x1="95.03" y1="642.20" x2="95.03" y2="645.40" class="tk"/>
<line x1="99.16" y1="642.20" x2="99.16" y2="645.40" class="tk"/>
<line x1="103.28" y1="642.20" x2="103.28" y2="645.40" class="tk"/>
<line x1="107.40" y1="642.20" x2="107.40" y2="645.40" class="tk"/>
<line x1="111.52" y1="642.20" x2="111.52" y2="645.40" class="tk"/>
<line x1="115.64" y1="642.20" x2="115.64" y2="645.40" class="tk"/>
<line x1="119.77" y1="642.20" x2="119.77" y2="645.40" class="tk"/>
<line x1="123.89" y1="642.20" x2="123.89" y2="645.40" class="tk"/>
<line x1="128.01" y1="642.20" x2="128.01" y2="645.40" class="tk"/>
<line x1="132.13" y1="642.20" x2="132.13" y2="645.40" class="tk"/>
<line x1="136.26" y1="642.20" x2="136.26" y2="645.40" class="tk"/>
<line x1="140.38" y1="642.20" x2="140.38" y2="645.40" class="tk"/>
<line x1="144.50" y1="642.20" x2="144.50" y2="645.40" class="tk"/>
<line x1="148.62" y1="642.20" x2="148.62" y2="645.40" class="tk"/>
<line x1="152.74" y1="642.20" x2="152.74" y2="645.40" class="tk"/>
<line x1="156.87" y1="642.20" x2="156.87" y2="645.40" class="tk"/>
<line x1="160.99" y1="642.20" x2="160.99" y2="645.40" class="tk"/>
<line x1="165.11" y1="642.20" x2="165.11" y2="645.40" class="tk"/>
<line x1="169.23" y1="642.20" x2="169.23" y2="645.40" class="tk"/>
<line x1="173.36" y1="642.20" x2="173.36" y2="645.40" class="tk"/>
<line x1="177.48" y1="642.20" x2="177.48" y2="645.40" class="tk"/>
<line x1="181.60" y1="642.20" x2="181.60" y2="645.40" class="tk"/>
<line x1="185.72" y1="642.20" x2="185.72" y2="645.40" class="tk"/>
<line x1="189.84" y1="642.20" x2="189.84" y2="645.40" class="tk"/>
<line x1="193.97" y1="642.20" x2="193.97" y2="645.40" class="tk"/>
<line x1="198.09" y1="642.20" x2="198.09" y2="645.40" class="tk"/>
<line x1="202.21" y1="642.20" x2="202.21" y2="645.40" class="tk"/>
<line x1="206.33" y1="642.20" x2="206.33" y2="645.40" class="tk"/>
<line x1="210.46" y1="642.20" x2="210.46" y2="645.40" class="tk"/>
<line x1="214.58" y1="642.20" x2="214.58" y2="645.40" class="tk"/>
<line x1="218.70" y1="642.20" x2="218.70" y2="645.40" class="tk"/>
<line x1="222.82" y1="642.20" x2="222.82" y2="645.40" class="tk"/>
<line x1="226.94" y1="642.20" x2="226.94" y2="645.40" class="tk"/>
<line x1="231.07" y1="642.20" x2="231.07" y2="645.40" class="tk"/>
<line x1="235.19" y1="642.20" x2="235.19" y2="645.40" class="tk"/>
<line x1="239.31" y1="642.20" x2="239.31" y2="645.40" class="tk"/>
<line x1="243.43" y1="642.20" x2="243.43" y2="645.40" class="tk"/>
<line x1="247.56" y1="642.20" x2="247.56" y2="645.40" class="tk"/>
<line x1="251.68" y1="642.20" x2="251.68" y2="645.40" class="tk"/>
<line x1="255.80" y1="642.20" x2="255.80" y2="645.40" class="tk"/>
<text transform="translate(73.00,649.10) rotate(-90) scale(0.955,1)" font-size="8.3" text-anchor="end">250,000</text>
<text transform="translate(93.61,649.10) rotate(-90) scale(0.955,1)" font-size="8.3" text-anchor="end">300,000</text>
<text transform="translate(114.22,649.10) rotate(-90) scale(0.955,1)" font-size="8.3" text-anchor="end">350,000</text>
<text transform="translate(134.83,649.10) rotate(-90) scale(0.955,1)" font-size="8.3" text-anchor="end">400,000</text>
<text transform="translate(155.44,649.10) rotate(-90) scale(0.955,1)" font-size="8.3" text-anchor="end">450,000</text>
<text transform="translate(176.06,649.10) rotate(-90) scale(0.955,1)" font-size="8.3" text-anchor="end">500,000</text>
<text transform="translate(196.67,649.10) rotate(-90) scale(0.955,1)" font-size="8.3" text-anchor="end">550,000</text>
<text transform="translate(217.28,649.10) rotate(-90) scale(0.955,1)" font-size="8.3" text-anchor="end">600,000</text>
<text transform="translate(237.89,649.10) rotate(-90) scale(0.955,1)" font-size="8.3" text-anchor="end">650,000</text>
<text transform="translate(258.50,649.10) rotate(-90) scale(0.955,1)" font-size="8.3" text-anchor="end">700,000</text>
<text x="164.00" y="690.80" font-size="10.0" text-anchor="middle" textLength="124.4" lengthAdjust="spacingAndGlyphs">Cost of daratumumab 16 mg/kg (JPY)</text>
<text transform="translate(27.40,590.10) rotate(-90)" font-size="9.9" text-anchor="middle" textLength="116.2" lengthAdjust="spacingAndGlyphs">Cost of carfilzomib 56 mg/m<tspan font-size="7" dy="-3.6">2</tspan><tspan dy="3.6"> (JPY)</tspan></text>
<text x="162.90" y="535.30" font-size="10.1" text-anchor="middle" textLength="138.8" lengthAdjust="spacingAndGlyphs" class="tt">Withdrawal rate: 0.06 (base case)</text>
<line x1="70.30" y1="595.41" x2="255.80" y2="595.41" class="d"/>
<line x1="165.30" y1="541.60" x2="165.30" y2="640.20" class="d"/>
<text transform="translate(175.90,591.60) rotate(-90)" font-size="8.3" text-anchor="middle" textLength="69.8" lengthAdjust="spacingAndGlyphs">480,464 (base case)</text>
<text x="90.10" y="604.71" font-size="8.3" textLength="69.1" lengthAdjust="spacingAndGlyphs">263,556 (base case)</text>
<rect x="323.00" y="543.57" width="185.50" height="96.63" fill="#b8cbdb"/>
<polygon fill="#ecb8c2" points="421.8,640.20 508.50,603.6 508.50,640.20"/>
<path d="M320.90,537.60V642.20H512.50" class="ax"/>
<line x1="317.90" y1="640.20" x2="320.90" y2="640.20" class="tk"/>
<text x="314.30" y="642.40" font-size="8.2" text-anchor="end" textLength="27.9" lengthAdjust="spacingAndGlyphs">150,000</text>
<line x1="317.90" y1="620.48" x2="320.90" y2="620.48" class="tk"/>
<text x="314.30" y="622.68" font-size="8.2" text-anchor="end" textLength="27.9" lengthAdjust="spacingAndGlyphs">200,000</text>
<line x1="317.90" y1="600.76" x2="320.90" y2="600.76" class="tk"/>
<text x="314.30" y="602.96" font-size="8.2" text-anchor="end" textLength="27.9" lengthAdjust="spacingAndGlyphs">250,000</text>
<line x1="317.90" y1="581.04" x2="320.90" y2="581.04" class="tk"/>
<text x="314.30" y="583.24" font-size="8.2" text-anchor="end" textLength="27.9" lengthAdjust="spacingAndGlyphs">300,000</text>
<line x1="317.90" y1="561.32" x2="320.90" y2="561.32" class="tk"/>
<text x="314.30" y="563.52" font-size="8.2" text-anchor="end" textLength="27.9" lengthAdjust="spacingAndGlyphs">350,000</text>
<line x1="317.90" y1="541.60" x2="320.90" y2="541.60" class="tk"/>
<text x="314.30" y="543.80" font-size="8.2" text-anchor="end" textLength="27.9" lengthAdjust="spacingAndGlyphs">400,000</text>
<line x1="323.00" y1="642.20" x2="323.00" y2="645.40" class="tk"/>
<line x1="327.12" y1="642.20" x2="327.12" y2="645.40" class="tk"/>
<line x1="331.24" y1="642.20" x2="331.24" y2="645.40" class="tk"/>
<line x1="335.37" y1="642.20" x2="335.37" y2="645.40" class="tk"/>
<line x1="339.49" y1="642.20" x2="339.49" y2="645.40" class="tk"/>
<line x1="343.61" y1="642.20" x2="343.61" y2="645.40" class="tk"/>
<line x1="347.73" y1="642.20" x2="347.73" y2="645.40" class="tk"/>
<line x1="351.86" y1="642.20" x2="351.86" y2="645.40" class="tk"/>
<line x1="355.98" y1="642.20" x2="355.98" y2="645.40" class="tk"/>
<line x1="360.10" y1="642.20" x2="360.10" y2="645.40" class="tk"/>
<line x1="364.22" y1="642.20" x2="364.22" y2="645.40" class="tk"/>
<line x1="368.34" y1="642.20" x2="368.34" y2="645.40" class="tk"/>
<line x1="372.47" y1="642.20" x2="372.47" y2="645.40" class="tk"/>
<line x1="376.59" y1="642.20" x2="376.59" y2="645.40" class="tk"/>
<line x1="380.71" y1="642.20" x2="380.71" y2="645.40" class="tk"/>
<line x1="384.83" y1="642.20" x2="384.83" y2="645.40" class="tk"/>
<line x1="388.96" y1="642.20" x2="388.96" y2="645.40" class="tk"/>
<line x1="393.08" y1="642.20" x2="393.08" y2="645.40" class="tk"/>
<line x1="397.20" y1="642.20" x2="397.20" y2="645.40" class="tk"/>
<line x1="401.32" y1="642.20" x2="401.32" y2="645.40" class="tk"/>
<line x1="405.44" y1="642.20" x2="405.44" y2="645.40" class="tk"/>
<line x1="409.57" y1="642.20" x2="409.57" y2="645.40" class="tk"/>
<line x1="413.69" y1="642.20" x2="413.69" y2="645.40" class="tk"/>
<line x1="417.81" y1="642.20" x2="417.81" y2="645.40" class="tk"/>
<line x1="421.93" y1="642.20" x2="421.93" y2="645.40" class="tk"/>
<line x1="426.06" y1="642.20" x2="426.06" y2="645.40" class="tk"/>
<line x1="430.18" y1="642.20" x2="430.18" y2="645.40" class="tk"/>
<line x1="434.30" y1="642.20" x2="434.30" y2="645.40" class="tk"/>
<line x1="438.42" y1="642.20" x2="438.42" y2="645.40" class="tk"/>
<line x1="442.54" y1="642.20" x2="442.54" y2="645.40" class="tk"/>
<line x1="446.67" y1="642.20" x2="446.67" y2="645.40" class="tk"/>
<line x1="450.79" y1="642.20" x2="450.79" y2="645.40" class="tk"/>
<line x1="454.91" y1="642.20" x2="454.91" y2="645.40" class="tk"/>
<line x1="459.03" y1="642.20" x2="459.03" y2="645.40" class="tk"/>
<line x1="463.16" y1="642.20" x2="463.16" y2="645.40" class="tk"/>
<line x1="467.28" y1="642.20" x2="467.28" y2="645.40" class="tk"/>
<line x1="471.40" y1="642.20" x2="471.40" y2="645.40" class="tk"/>
<line x1="475.52" y1="642.20" x2="475.52" y2="645.40" class="tk"/>
<line x1="479.64" y1="642.20" x2="479.64" y2="645.40" class="tk"/>
<line x1="483.77" y1="642.20" x2="483.77" y2="645.40" class="tk"/>
<line x1="487.89" y1="642.20" x2="487.89" y2="645.40" class="tk"/>
<line x1="492.01" y1="642.20" x2="492.01" y2="645.40" class="tk"/>
<line x1="496.13" y1="642.20" x2="496.13" y2="645.40" class="tk"/>
<line x1="500.26" y1="642.20" x2="500.26" y2="645.40" class="tk"/>
<line x1="504.38" y1="642.20" x2="504.38" y2="645.40" class="tk"/>
<line x1="508.50" y1="642.20" x2="508.50" y2="645.40" class="tk"/>
<text transform="translate(325.70,649.10) rotate(-90) scale(0.955,1)" font-size="8.3" text-anchor="end">250,000</text>
<text transform="translate(346.31,649.10) rotate(-90) scale(0.955,1)" font-size="8.3" text-anchor="end">300,000</text>
<text transform="translate(366.92,649.10) rotate(-90) scale(0.955,1)" font-size="8.3" text-anchor="end">350,000</text>
<text transform="translate(387.53,649.10) rotate(-90) scale(0.955,1)" font-size="8.3" text-anchor="end">400,000</text>
<text transform="translate(408.14,649.10) rotate(-90) scale(0.955,1)" font-size="8.3" text-anchor="end">450,000</text>
<text transform="translate(428.76,649.10) rotate(-90) scale(0.955,1)" font-size="8.3" text-anchor="end">500,000</text>
<text transform="translate(449.37,649.10) rotate(-90) scale(0.955,1)" font-size="8.3" text-anchor="end">550,000</text>
<text transform="translate(469.98,649.10) rotate(-90) scale(0.955,1)" font-size="8.3" text-anchor="end">600,000</text>
<text transform="translate(490.59,649.10) rotate(-90) scale(0.955,1)" font-size="8.3" text-anchor="end">650,000</text>
<text transform="translate(511.20,649.10) rotate(-90) scale(0.955,1)" font-size="8.3" text-anchor="end">700,000</text>
<text x="416.70" y="690.80" font-size="10.0" text-anchor="middle" textLength="124.4" lengthAdjust="spacingAndGlyphs">Cost of daratumumab 16 mg/kg (JPY)</text>
<text x="416.40" y="535.30" font-size="10.1" text-anchor="middle" textLength="91.2" lengthAdjust="spacingAndGlyphs" class="tt">Withdrawal rate: 0.25</text>
<line x1="323.00" y1="595.41" x2="508.50" y2="595.41" class="d"/>
<line x1="418.00" y1="541.60" x2="418.00" y2="640.20" class="d"/>
<text transform="translate(428.60,591.60) rotate(-90)" font-size="8.3" text-anchor="middle" textLength="69.8" lengthAdjust="spacingAndGlyphs">480,464 (base case)</text>
<text x="342.80" y="604.71" font-size="8.3" textLength="69.1" lengthAdjust="spacingAndGlyphs">263,556 (base case)</text>
</svg>
</body></html>
